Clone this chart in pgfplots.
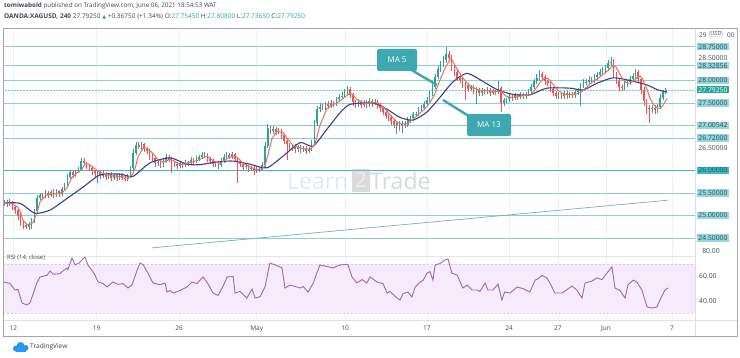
\documentclass[border=0pt]{standalone}
\usepackage{fontspec}
\setmainfont{Open Sans}
\newfontfamily\dejavu{DejaVu Sans}
\usepackage{pgfplots}
\pgfplotsset{compat=1.18}
\usepackage{pgfplotstable}

\definecolor{up}{RGB}{38,166,154}
\definecolor{dn}{RGB}{239,83,80}
\definecolor{ma5}{RGB}{242,110,88}
\definecolor{ma13}{RGB}{62,60,155}
\definecolor{hl}{RGB}{135,208,214}
\definecolor{hlstrong}{RGB}{60,184,198}
\definecolor{hlbox}{RGB}{150,214,220}
\definecolor{hltext}{RGB}{30,80,90}
\definecolor{tealc}{RGB}{62,168,176}
\definecolor{rsic}{RGB}{155,105,185}
\definecolor{rsiband}{RGB}{245,235,250}
\definecolor{gridc}{RGB}{236,240,247}
\definecolor{txt}{RGB}{70,70,80}
\definecolor{tvblue}{RGB}{41,150,243}

\newcommand{\fs}[1]{\fontsize{#1}{#1}\selectfont}

\pgfplotstableread{
i o c u d
0 25.28 25.30 0.05 0.06
1 25.30 25.25 0.04 0.05
2 25.25 25.30 0.06 0.03
3 25.30 25.18 0.03 0.06
4 25.18 25.12 0.05 0.08
5 25.12 25.00 0.04 0.10
6 25.00 24.85 0.05 0.08
7 24.85 24.78 0.06 0.09
8 24.78 24.74 0.05 0.04
9 24.74 24.82 0.04 0.06
10 24.82 24.88 0.06 0.12
11 24.88 25.10 0.05 0.04
12 25.10 25.40 0.06 0.05
13 25.40 25.45 0.05 0.06
14 25.45 25.42 0.04 0.07
15 25.42 25.50 0.06 0.04
16 25.50 25.46 0.05 0.06
17 25.46 25.52 0.04 0.05
18 25.52 25.45 0.06 0.05
19 25.45 25.54 0.05 0.04
20 25.54 25.48 0.03 0.06
21 25.48 25.58 0.05 0.04
22 25.58 25.66 0.06 0.03
23 25.66 25.85 0.07 0.05
24 25.85 25.96 0.06 0.04
25 25.96 25.90 0.05 0.06
26 25.90 25.98 0.04 0.05
27 25.98 26.02 0.06 0.04
28 26.02 26.22 0.06 0.03
29 26.22 26.16 0.05 0.06
30 26.16 26.10 0.04 0.07
31 26.10 26.06 0.05 0.06
32 26.06 25.98 0.03 0.07
33 25.98 25.94 0.04 0.08
34 25.94 25.96 0.05 0.22
35 25.96 25.88 0.04 0.06
36 25.88 25.93 0.05 0.04
37 25.93 25.86 0.03 0.06
38 25.86 25.91 0.04 0.05
39 25.91 25.84 0.05 0.07
40 25.84 25.89 0.04 0.05
41 25.89 25.83 0.03 0.06
42 25.83 25.90 0.05 0.04
43 25.90 25.84 0.04 0.05
44 25.84 25.82 0.05 0.06
45 25.82 25.88 0.04 0.05
46 25.88 26.05 0.06 0.04
47 26.05 26.40 0.08 0.05
48 26.40 26.56 0.07 0.06
49 26.56 26.52 0.08 0.05
50 26.52 26.58 0.05 0.06
51 26.58 26.48 0.04 0.06
52 26.48 26.44 0.05 0.07
53 26.44 26.32 0.04 0.08
54 26.32 26.28 0.05 0.06
55 26.28 26.16 0.04 0.08
56 26.16 26.20 0.06 0.05
57 26.20 26.12 0.04 0.07
58 26.12 26.22 0.05 0.04
59 26.22 26.30 0.06 0.05
60 26.30 26.24 0.04 0.06
61 26.24 26.18 0.05 0.24
62 26.18 26.14 0.04 0.07
63 26.14 26.10 0.05 0.06
64 26.10 26.16 0.06 0.04
65 26.16 26.12 0.04 0.06
66 26.12 26.18 0.05 0.05
67 26.18 26.16 0.04 0.06
68 26.16 26.23 0.06 0.04
69 26.23 26.20 0.05 0.07
70 26.20 26.26 0.06 0.04
71 26.26 26.30 0.05 0.05
72 26.30 26.34 0.07 0.04
73 26.34 26.36 0.06 0.05
74 26.36 26.26 0.04 0.07
75 26.26 26.22 0.05 0.08
76 26.22 26.14 0.04 0.07
77 26.14 26.16 0.05 0.06
78 26.16 26.12 0.04 0.08
79 26.12 26.22 0.05 0.04
80 26.22 26.30 0.06 0.05
81 26.30 26.34 0.07 0.04
82 26.34 26.31 0.05 0.06
83 26.31 26.36 0.06 0.05
84 26.36 26.26 0.04 0.07
85 26.26 26.18 0.05 0.46
86 26.18 26.14 0.04 0.07
87 26.14 26.08 0.05 0.06
88 26.08 26.10 0.04 0.05
89 26.10 26.04 0.03 0.07
90 26.04 26.06 0.05 0.06
91 26.06 25.99 0.04 0.08
92 25.99 26.04 0.05 0.05
93 26.04 26.02 0.04 0.06
94 26.02 26.12 0.06 0.04
95 26.12 26.55 0.08 0.05
96 26.55 26.94 0.10 0.06
97 26.94 26.88 0.06 0.07
98 26.88 26.93 0.05 0.06
99 26.93 26.86 0.04 0.07
100 26.86 26.88 0.06 0.05
101 26.88 26.78 0.05 0.08
102 26.78 26.66 0.04 0.07
103 26.66 26.58 0.05 0.35
104 26.58 26.50 0.04 0.07
105 26.50 26.54 0.05 0.06
106 26.54 26.47 0.04 0.09
107 26.47 26.52 0.05 0.06
108 26.52 26.46 0.04 0.08
109 26.46 26.50 0.05 0.05
110 26.50 26.44 0.04 0.07
111 26.44 26.48 0.05 0.06
112 26.48 26.62 0.06 0.04
113 26.62 27.05 0.08 0.05
114 27.05 27.36 0.08 0.06
115 27.36 27.42 0.07 0.05
116 27.42 27.40 0.06 0.06
117 27.40 27.48 0.05 0.05
118 27.48 27.44 0.06 0.07
119 27.44 27.50 0.07 0.05
120 27.50 27.48 0.05 0.06
121 27.48 27.58 0.06 0.04
122 27.58 27.64 0.07 0.05
123 27.64 27.66 0.08 0.06
124 27.66 27.74 0.07 0.05
125 27.74 27.82 0.06 0.06
126 27.82 27.68 0.04 0.07
127 27.68 27.52 0.05 0.08
128 27.52 27.46 0.04 0.07
129 27.46 27.52 0.06 0.05
130 27.52 27.46 0.04 0.08
131 27.46 27.52 0.05 0.05
132 27.52 27.47 0.04 0.07
133 27.47 27.55 0.06 0.05
134 27.55 27.50 0.05 0.08
135 27.50 27.53 0.06 0.05
136 27.53 27.44 0.04 0.07
137 27.44 27.38 0.05 0.08
138 27.38 27.30 0.04 0.07
139 27.30 27.22 0.05 0.08
140 27.22 27.18 0.04 0.07
141 27.18 27.10 0.05 0.09
142 27.10 27.02 0.04 0.08
143 27.02 27.06 0.05 0.20
144 27.06 26.98 0.04 0.10
145 26.98 27.04 0.06 0.15
146 27.04 27.02 0.05 0.08
147 27.02 27.12 0.06 0.05
148 27.12 27.16 0.05 0.06
149 27.16 27.25 0.06 0.05
150 27.25 27.26 0.05 0.06
151 27.26 27.35 0.06 0.04
152 27.35 27.40 0.05 0.05
153 27.40 27.48 0.06 0.04
154 27.48 27.56 0.07 0.05
155 27.56 27.70 0.06 0.04
156 27.70 27.85 0.08 0.05
157 27.85 28.08 0.07 0.04
158 28.08 28.25 0.08 0.05
159 28.25 28.36 0.07 0.06
160 28.36 28.45 0.09 0.05
161 28.45 28.58 0.17 0.06
162 28.58 28.50 0.08 0.07
163 28.50 28.30 0.06 0.08
164 28.30 28.18 0.05 0.07
165 28.18 28.06 0.06 0.08
166 28.06 28.02 0.05 0.07
167 28.02 27.92 0.04 0.08
168 27.92 27.90 0.05 0.33
169 27.90 27.82 0.04 0.07
170 27.82 27.86 0.05 0.06
171 27.86 27.78 0.04 0.08
172 27.78 27.80 0.05 0.30
173 27.80 27.72 0.04 0.07
174 27.72 27.78 0.05 0.06
175 27.78 27.76 0.04 0.07
176 27.76 27.80 0.05 0.06
177 27.80 27.73 0.04 0.08
178 27.73 27.76 0.05 0.06
179 27.76 27.74 0.04 0.07
180 27.74 27.84 0.16 0.05
181 27.84 27.50 0.04 0.20
182 27.50 27.56 0.05 0.06
183 27.56 27.58 0.04 0.07
184 27.58 27.64 0.05 0.06
185 27.64 27.62 0.04 0.07
186 27.62 27.67 0.05 0.06
187 27.67 27.64 0.04 0.07
188 27.64 27.69 0.05 0.06
189 27.69 27.66 0.04 0.07
190 27.66 27.70 0.05 0.06
191 27.70 27.76 0.06 0.05
192 27.76 27.85 0.07 0.05
193 27.85 27.98 0.06 0.04
194 27.98 28.06 0.08 0.05
195 28.06 28.14 0.09 0.06
196 28.14 28.08 0.06 0.07
197 28.08 27.98 0.05 0.08
198 27.98 27.94 0.04 0.07
199 27.94 27.82 0.05 0.08
200 27.82 27.72 0.04 0.07
201 27.72 27.66 0.05 0.06
202 27.66 27.70 0.04 0.07
203 27.70 27.65 0.05 0.06
204 27.65 27.72 0.04 0.05
205 27.72 27.67 0.05 0.07
206 27.67 27.70 0.04 0.06
207 27.70 27.68 0.05 0.07
208 27.68 27.74 0.04 0.06
209 27.74 27.78 0.05 0.06
210 27.78 27.88 0.06 0.35
211 27.88 27.96 0.07 0.05
212 27.96 27.97 0.06 0.06
213 27.97 28.02 0.07 0.05
214 28.02 28.00 0.06 0.06
215 28.00 28.08 0.07 0.05
216 28.08 28.12 0.06 0.06
217 28.12 28.18 0.07 0.05
218 28.18 28.22 0.08 0.06
219 28.22 28.28 0.07 0.05
220 28.28 28.38 0.08 0.06
221 28.38 28.42 0.10 0.05
222 28.42 28.14 0.05 0.07
223 28.14 28.00 0.04 0.08
224 28.00 27.86 0.05 0.10
225 27.86 27.84 0.04 0.07
226 27.84 27.92 0.06 0.05
227 27.92 27.96 0.05 0.06
228 27.96 28.04 0.06 0.05
229 28.04 28.10 0.07 0.06
230 28.10 28.18 0.07 0.05
231 28.18 28.04 0.05 0.07
232 28.04 27.80 0.04 0.10
233 27.80 27.55 0.05 0.12
234 27.55 27.40 0.04 0.15
235 27.40 27.36 0.05 0.31
236 27.36 27.40 0.06 0.08
237 27.40 27.35 0.05 0.10
238 27.35 27.42 0.06 0.07
239 27.42 27.62 0.07 0.05
240 27.62 27.74 0.06 0.05
241 27.74 27.79 0.05 0.04
}\candles

\pgfplotsset{
  tvx/.style={xmin=-0.44, xmax=251.66,
    xtick={3.3,33.7,63.7,92,124.2,154,183.9,201.7,219.2,243.3},
    axis line style={draw=none}, major tick length=0pt, ytick=\empty,
    xmajorgrids, grid style={gridc, line width=0.6pt}, scale only axis, width=692pt},
}
\tikzset{plab/.style={anchor=west, inner xsep=1.8pt, inner ysep=1.1pt, font=\fs{6.8}}}

\begin{document}
\begin{tikzpicture}[x=1pt,y=1pt]
\fill[white] (0pt,0pt) rectangle (740pt,357pt);

% main price pane
\begin{axis}[tvx, at={(3pt,101pt)}, anchor=south west, height=228pt,
  ymin=24.1, ymax=29.167, xticklabels={}, clip=false]
% horizontal levels
\addplot[hl, line width=0.8pt, forget plot] coordinates {(-0.44,28.75) (251.66,28.75)};
\addplot[hl, line width=0.8pt, forget plot] coordinates {(-0.44,28.32856) (251.66,28.32856)};
\addplot[hl, line width=0.8pt, forget plot] coordinates {(-0.44,28.0) (251.66,28.0)};
\addplot[hl, line width=0.8pt, forget plot] coordinates {(-0.44,27.5) (251.66,27.5)};
\addplot[hl, line width=0.8pt, forget plot] coordinates {(-0.44,27.00542) (251.66,27.00542)};
\addplot[hl, line width=0.8pt, forget plot] coordinates {(-0.44,26.72) (251.66,26.72)};
\addplot[hlstrong, line width=1pt, forget plot] coordinates {(-0.44,26.0) (251.66,26.0)};
\addplot[hl, line width=0.8pt, forget plot] coordinates {(-0.44,25.5) (251.66,25.5)};
\addplot[hl, line width=0.8pt, forget plot] coordinates {(-0.44,25.0) (251.66,25.0)};
\addplot[hl, line width=0.8pt, forget plot] coordinates {(-0.44,24.5) (251.66,24.5)};
\addplot[up!60, densely dotted, line width=0.5pt, forget plot] coordinates {(-0.44,27.7925) (251.66,27.7925)};
% trend line
\addplot[hl!80!black!90, line width=0.7pt, forget plot] coordinates {(53.7,24.28) (241.8,25.34)};
% candles: wicks
\addplot[up, line width=0.5pt, forget plot, restrict x to domain=-5:300,
  quiver={u=0, v={abs(\thisrow{c}-\thisrow{o})+\thisrow{u}+\thisrow{d}}}]
  table[x expr={ifthenelse(\thisrow{c}<\thisrow{o},-1000,\thisrow{i})},
        y expr={min(\thisrow{o},\thisrow{c})-\thisrow{d}}]{\candles};
\addplot[dn, line width=0.5pt, forget plot, restrict x to domain=-5:300,
  quiver={u=0, v={abs(\thisrow{c}-\thisrow{o})+\thisrow{u}+\thisrow{d}}}]
  table[x expr={ifthenelse(\thisrow{c}<\thisrow{o},\thisrow{i},-1000)},
        y expr={min(\thisrow{o},\thisrow{c})-\thisrow{d}}]{\candles};
% candles: bodies
\addplot[up, line width=1.6pt, forget plot, restrict x to domain=-5:300,
  quiver={u=0, v={abs(\thisrow{c}-\thisrow{o})}}]
  table[x expr={ifthenelse(\thisrow{c}<\thisrow{o},-1000,\thisrow{i})},
        y expr={min(\thisrow{o},\thisrow{c})}]{\candles};
\addplot[dn, line width=1.6pt, forget plot, restrict x to domain=-5:300,
  quiver={u=0, v={abs(\thisrow{c}-\thisrow{o})}}]
  table[x expr={ifthenelse(\thisrow{c}<\thisrow{o},\thisrow{i},-1000)},
        y expr={min(\thisrow{o},\thisrow{c})}]{\candles};
% MA 13
\addplot[ma13, line width=1.1pt, smooth, tension=0.4] coordinates {
(-0.4,25.28) (5.8,25.27) (11.2,25.05) (16.7,25.12) (22.9,25.38) (28.7,25.63) (34.9,25.9)
(42.2,25.92) (46.9,25.87) (53.1,26.17) (60.4,26.28) (66.6,26.14) (71.3,26.13) (77.5,26.19)
(83.4,26.21) (89.5,26.14) (95.7,26.06) (101.6,26.32) (107.8,26.62) (112.5,26.54) (117.6,26.92)
(122.3,27.28) (126,27.47) (134.4,27.5) (139.5,27.36) (144.2,27.18) (148.9,27.12) (154,27.3)
(158.8,27.63) (163.5,27.97) (168.6,28.16) (174.4,27.98) (179.5,27.8) (185.4,27.69) (191.5,27.68)
(197.7,27.83) (206.1,27.83) (210.9,27.79) (216,27.94) (221.8,28.06) (228,28.0) (234.2,27.9)
(237.8,27.8) (241.5,27.74)};
% MA 5
\addplot[ma5, line width=1pt] coordinates {
(-0.4,25.28) (2.1,25.28) (4.7,25.2) (5.8,25.1) (6.8,24.9) (8.3,24.8) (9.4,24.8) (10.5,24.85)
(11.9,25.05) (13,25.3) (14.9,25.43) (16.7,25.48) (18.5,25.48) (21.4,25.52) (22.9,25.62)
(24.7,25.85) (26.5,25.95) (28.3,26.02) (29.4,26.15) (30.5,26.15) (32,26.08) (34.9,25.96)
(37.1,25.91) (39.6,25.88) (43.3,25.86) (45.1,25.85) (46.6,25.9) (47.7,26.05) (48.7,26.3)
(50.6,26.5) (52,26.5) (54.2,26.38) (56,26.24) (57.9,26.18) (59.3,26.22) (60.4,26.25)
(62.2,26.2) (64,26.13) (66.6,26.15) (68.4,26.19) (70.2,26.22) (72.4,26.28) (73.9,26.32)
(76.1,26.22) (78.6,26.15) (81.2,26.27) (83.4,26.32) (84.8,26.3) (87,26.16) (88.8,26.1)
(90.3,26.06) (92.1,26.02) (93.9,26.04) (95,26.1) (96.1,26.35) (97.5,26.7) (99.4,26.88)
(101.6,26.84) (103,26.72) (105.2,26.56) (107.8,26.5) (109.6,26.48) (111.4,26.47) (113.2,26.58)
(115,27.0) (117.6,27.38) (119.4,27.45) (121.2,27.5) (123.4,27.6) (126,27.72) (127.1,27.68)
(128.5,27.58) (130.7,27.5) (132.5,27.5) (134.4,27.51) (136.2,27.5) (138,27.42) (139.5,27.32)
(140.5,27.24) (143.1,27.08) (144.9,27.03) (146.4,27.04) (147.8,27.08) (148.9,27.14) (151.5,27.28)
(154,27.42) (155.5,27.55) (157,27.72) (158.8,28.02) (160.6,28.28) (162.4,28.46) (163.1,28.46)
(164.2,28.34) (166,28.16) (167.1,28.06) (168.6,27.95) (169.7,27.88) (172.2,27.8) (174,27.77)
(175.9,27.78) (177.7,27.76) (179.5,27.76) (181.3,27.76) (182.5,27.66) (184.3,27.62) (186.1,27.63)
(188,27.65) (189.7,27.67) (191.5,27.68) (193,27.76) (194.1,27.86) (195.5,27.98) (197,28.06)
(198.1,28.04) (198.8,28.0) (199.9,27.92) (201.4,27.8) (203.6,27.7) (205.4,27.69) (207.2,27.68)
(209,27.71) (210.5,27.76) (212.3,27.86) (214.1,27.96) (215.9,28.03) (217.8,28.12) (219.6,28.2)
(220.7,28.27) (221.8,28.33) (222.9,28.3) (223.6,28.22) (225.4,28.02) (226.9,27.94) (228,27.94)
(229.4,28.0) (230.5,28.06) (231.6,28.1) (232.7,28.02) (234.2,27.8) (235.3,27.6) (236.4,27.48)
(237.8,27.4) (238.9,27.38) (240,27.45) (241.5,27.6)};
% price scale labels
\node[plab, fill=hlbox, text=hltext] at (axis cs:252.2,28.75) {28.75000};
\node[plab, text=txt] at (axis cs:252.2,28.5) {28.50000};
\node[plab, fill=hlbox, text=hltext] at (axis cs:252.2,28.32856) {28.32856};
\node[plab, fill=hlbox, text=hltext] at (axis cs:252.2,28.0) {28.00000};
\node[plab, fill=up, text=white] at (axis cs:252.2,27.7925) {27.79250};
\node[plab, fill=hlbox, text=hltext] at (axis cs:252.2,27.5) {27.50000};
\node[plab, fill=hlbox, text=hltext] at (axis cs:252.2,27.00542) {27.00542};
\node[plab, fill=hlbox, text=hltext] at (axis cs:252.2,26.72) {26.72000};
\node[plab, text=txt] at (axis cs:252.2,26.5) {26.50000};
\node[plab, fill=hlstrong, text=hltext] at (axis cs:252.2,26.0) {26.00000};
\node[plab, fill=hlbox, text=hltext] at (axis cs:252.2,25.5) {25.50000};
\node[plab, fill=hlbox, text=hltext] at (axis cs:252.2,25.0) {25.00000};
\node[plab, fill=hlbox, text=hltext] at (axis cs:252.2,24.5) {24.50000};
\end{axis}

% RSI pane
\begin{axis}[tvx, at={(3pt,37pt)}, anchor=south west, height=64pt,
  ymin=24.49, ymax=76.73, clip=false,
  xticklabels={12,19,26,May,10,17,24,27,Jun,7},
  xticklabel style={font=\fs{6.5}, text=txt, yshift=-2.5pt}]
\fill[rsiband] (axis cs:-0.44,30) rectangle (axis cs:251.66,70);
\draw[rsic!35, dash pattern=on 2pt off 2pt, line width=0.5pt] (axis cs:-0.44,70) -- (axis cs:251.66,70);
\draw[rsic!35, dash pattern=on 2pt off 2pt, line width=0.5pt] (axis cs:-0.44,30) -- (axis cs:251.66,30);
\addplot[rsic, line width=0.9pt] coordinates {
(-0.4,55.5) (2.1,54.4) (3.9,49) (5,49.5) (6.5,38.4) (8.3,36.7) (9.4,38.5) (11.9,54.7)
(13,59.6) (15.6,61) (16.7,64.5) (17.8,61.8) (20.3,62.3) (21.4,64.5) (22.9,67) (23.2,65.5)
(24.7,75) (25.8,69.5) (27.3,71) (29.4,76) (30.5,69.4) (32,65) (33.1,61) (34.2,55.5)
(36,54.2) (37.5,51.5) (39.6,55.5) (41.5,53.6) (43.3,54.2) (45.1,50.6) (46.6,53.3) (48.4,65)
(49.5,71) (50.6,69.6) (52.4,62.6) (54.2,54.7) (56.8,53.3) (58.6,54.7) (59.3,47.3) (60.4,48.6)
(61.5,46.5) (64,48.6) (66.6,51.4) (68.4,55.5) (70.2,54.2) (72.4,59.6) (74.2,54.2) (76.1,46.5)
(77.9,44.5) (79.7,51.8) (81.2,59.6) (83.4,60) (84.1,46.5) (85.9,47.8) (88.4,42.4) (90.3,49.8)
(91.4,42.4) (93.2,43.5) (95,51.4) (96.8,71) (98.6,69.6) (101.2,67) (102.3,50.6) (104.1,53)
(106.7,51.4) (107.8,50.6) (108.9,51.8) (110.7,47.3) (112.5,54.2) (115,69.4) (117.6,68.1)
(119.8,67) (122.3,69.4) (125.2,70) (126.7,59.6) (128.5,54.7) (130.4,57.5) (132.1,54.7)
(133.3,59.6) (135.8,55.5) (138,54.2) (139.5,46.5) (140.5,47.8) (143.1,42.4) (144.2,40.8)
(145.3,46.1) (147.1,47.3) (148.5,43.3) (149.7,51.4) (151.5,55.5) (152.6,56.8) (154,62.6)
(155.1,64) (156.2,57) (157,69.4) (158.8,70.7) (160.6,73.5) (161.7,74.3) (163.1,62.6)
(165,61.2) (167.1,50.6) (168.6,53) (170.4,49) (172.2,49) (173.3,47.8) (175.2,54.7) (176.2,49)
(178.1,49) (179.9,53.9) (181.3,40.8) (182.3,47.3) (184.3,46.5) (186.8,51.4) (189,50.1)
(191.5,47.3) (193.4,57) (194.5,58.1) (195.9,61) (197.7,58.8) (198.8,54.7) (200.6,46.5)
(203.2,46.5) (205,49.2) (206.8,52.2) (208.6,49) (210.5,42.4) (211.6,54.7) (214.1,56.2)
(215.9,58.8) (217.8,57.5) (219.9,63.7) (221.4,67.8) (222.5,50.6) (224.3,48.6) (226.2,42.4)
(227.2,53) (229.1,57) (230.5,55.5) (232.3,49) (234.2,35.1) (236,34.3) (237.8,35.1)
(238.9,40.8) (240.7,49) (241.8,50.6)};
\end{axis}

% frame and separators
\draw[gray!25, line width=0.5pt] (695pt,329pt) -- (695pt,21pt);
\draw[gray!25, line width=0.5pt] (3pt,37pt) -- (737pt,37pt);
\draw[gray!20, line width=0.5pt] (3pt,101pt) -- (695pt,101pt);
\draw[gray!70, line width=0.7pt] (3pt,329pt) rectangle (737pt,21pt);

% price scale top and RSI scale labels
\node[anchor=west, inner sep=0, font=\fs{6.5}, text=txt] at (699pt,322pt) {29};
\node[fill=white, draw=gray!50, rounded corners=1pt, inner sep=0.8pt, font=\fs{5.5}, text=txt] at (716pt,323pt) {USD};
\node[anchor=west, inner sep=0, font=\fs{6.5}, text=txt] at (727pt,322pt) {00};
\node[fill=white, inner sep=0.5pt, font=\fs{6.8}, text=txt] at (711pt,106pt) {80.00};
\node[anchor=west, inner sep=0pt, font=\fs{6.8}, text=txt] at (699pt,80.5pt) {60.00};
\node[anchor=west, inner sep=0pt, font=\fs{6.8}, text=txt] at (699pt,56pt) {40.00};

% RSI title
\node[anchor=west, inner sep=0, font=\fs{6}, text=txt] at (7pt,99pt) {RSI (14, close)};

% header
\node[anchor=west, inner sep=0, font=\fs{6.3}, text=txt] at (4pt,351pt) {\textbf{tomiwabold} published on TradingView.com, June 06, 2021 18:54:53 WAT};
\node[anchor=west, inner sep=0, font=\fs{6.5}, text=txt] at (4pt,340pt) {\textbf{OANDA:XAGUSD, 240} 27.79250 {\color{up}\dejavu\fs{5}▲} +0.36750 (+1.34\%) O:{\color{up}27.75450} H:{\color{up}27.80800} L:{\color{up}27.73650} C:{\color{up}27.79250}};

% MA callouts
\draw[tealc, line width=2.4pt] (408pt,289pt) -- (437pt,272pt);
\node[fill=tealc, rounded corners=2pt, text=white, font=\fs{8}, minimum width=40pt, minimum height=22pt] at (397pt,297pt) {MA 5};
\draw[tealc, line width=2.4pt] (472pt,239pt) -- (443pt,257pt);
\node[fill=tealc, rounded corners=2pt, text=white, font=\fs{8}, minimum width=44pt, minimum height=22pt] at (489pt,232pt) {MA 13};

% watermark
\begin{scope}[opacity=0.5]
\node[anchor=west, inner sep=0, font=\fs{23}, text={rgb,255:red,200;green,212;blue,228}] at (287pt,176pt) {Learn};
\node[fill={rgb,255:red,185;green,185;blue,185}, text=white, font=\fs{21}, inner sep=1pt, minimum width=18pt, minimum height=23pt] at (361pt,177pt) {2};
\node[anchor=west, inner sep=0, font=\fs{23}, text={rgb,255:red,180;green,180;blue,180}] at (370pt,176pt) {Trade};
\end{scope}

% TradingView logo
\fill[tvblue] (16pt,8.5pt) circle (3pt);
\fill[tvblue] (20.5pt,11pt) circle (4pt);
\fill[tvblue] (25.5pt,9pt) circle (3pt);
\fill[tvblue] (16pt,5.5pt) rectangle (25.5pt,9pt);
\node[anchor=west, inner sep=0, font=\fs{6.6}, text=txt] at (30pt,10pt) {TradingView};

\pgfresetboundingbox
\path[use as bounding box] (0pt,0pt) rectangle (740pt,357pt);
\end{tikzpicture}
\end{document}
